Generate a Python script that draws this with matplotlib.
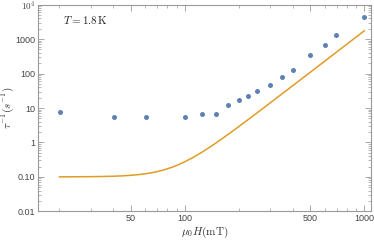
import matplotlib
matplotlib.use("Agg")
import matplotlib.pyplot as plt
from matplotlib.ticker import FixedLocator, NullFormatter, LogLocator

plt.rcParams['mathtext.fontset'] = 'cm'
plt.rcParams['font.family'] = ['Liberation Sans', 'DejaVu Sans']

# measured relaxation rates (field in mT, rate in 1/s)
field = [20.2, 40.4, 60.7, 100, 125, 150, 175, 200, 225, 251, 300, 349, 400, 499, 600, 698, 991]
rate = [7.6, 5.5, 5.4, 5.6, 6.7, 6.8, 12.2, 17, 22, 31, 47, 80, 130, 350, 680, 1300, 4400]

# model curve
curve_field = [20, 25, 30, 35, 40, 45, 50, 55, 60, 65, 70, 75, 80, 85, 90, 95, 100, 110, 125,
               140, 150, 175, 200, 250, 300, 350, 400, 450, 500, 600, 700, 800, 900, 1000]
curve_rate = [0.100, 0.1007, 0.1014, 0.1026, 0.1045, 0.107, 0.111, 0.116, 0.123, 0.131, 0.142,
              0.155, 0.172, 0.191, 0.215, 0.243, 0.275, 0.356, 0.527, 0.772, 0.986, 1.74, 2.90,
              6.94, 14.3, 26.4, 44.9, 71.9, 109, 227, 420, 717, 1148, 1750]

ytick_vals = [0.01, 0.1, 1, 10, 100, 1000, 10000]
ytick_labels = ['0.01', '0.10', '1', '10', '100', '1000', r'$10^4$']
xtick_vals = [50, 100, 500, 1000]
xtick_labels = ['50', '100', '500', '1000']

frame_col = '#9a9a9a'
text_col = '#444444'

fig = plt.figure(figsize=(3.74, 2.4), dpi=100)
ax = fig.add_axes([38 / 374, 1 - 211.3 / 240, (370.7 - 38) / 374, (211.3 - 4.7) / 240])

ax.plot(curve_field, curve_rate, color='#e19c24', lw=1.1)
ax.plot(field, rate, 'o', color='#5e81b5', ms=3.6, mec='none')

ax.set_xscale('log')
ax.set_yscale('log')
ax.set_xlim(15.2, 1085)
ax.set_ylim(0.01, 10000)

ax.xaxis.set_major_locator(FixedLocator(xtick_vals))
ax.set_xticklabels(xtick_labels)
ax.xaxis.set_minor_locator(FixedLocator([20, 30, 40, 60, 70, 80, 90, 200, 300, 400, 600, 700, 800, 900]))
ax.xaxis.set_minor_formatter(NullFormatter())
ax.yaxis.set_major_locator(FixedLocator(ytick_vals))
ax.set_yticklabels(ytick_labels)
ax.yaxis.set_minor_locator(LogLocator(base=10, subs=range(2, 10), numticks=20))
ax.yaxis.set_minor_formatter(NullFormatter())

for sp in ax.spines.values():
    sp.set_color(frame_col)
    sp.set_linewidth(0.8)
ax.tick_params(which='both', direction='in', top=True, right=True, colors=frame_col,
               labelcolor=text_col, labelsize=6.5, pad=2)
ax.tick_params(which='major', length=4, width=0.6)
ax.tick_params(which='minor', length=2, width=0.5)
ax.tick_params(axis='both', which='both', labeltop=False, labelright=False)

ax.set_xlabel(r'$\mu_0 H(\mathrm{mT})$', fontsize=8, color='#333333', labelpad=1)
ax.yaxis.set_label_coords(-0.066, 0.5)
ax.set_ylabel(r'$\tau^{-1}(s^{-1})$', fontsize=8, color='#333333')
ax.text(0.075, 0.905, r'$T = 1.8\,\mathrm{K}$', transform=ax.transAxes, fontsize=8, color='#222222')

fig.savefig('out.png', dpi=100)
